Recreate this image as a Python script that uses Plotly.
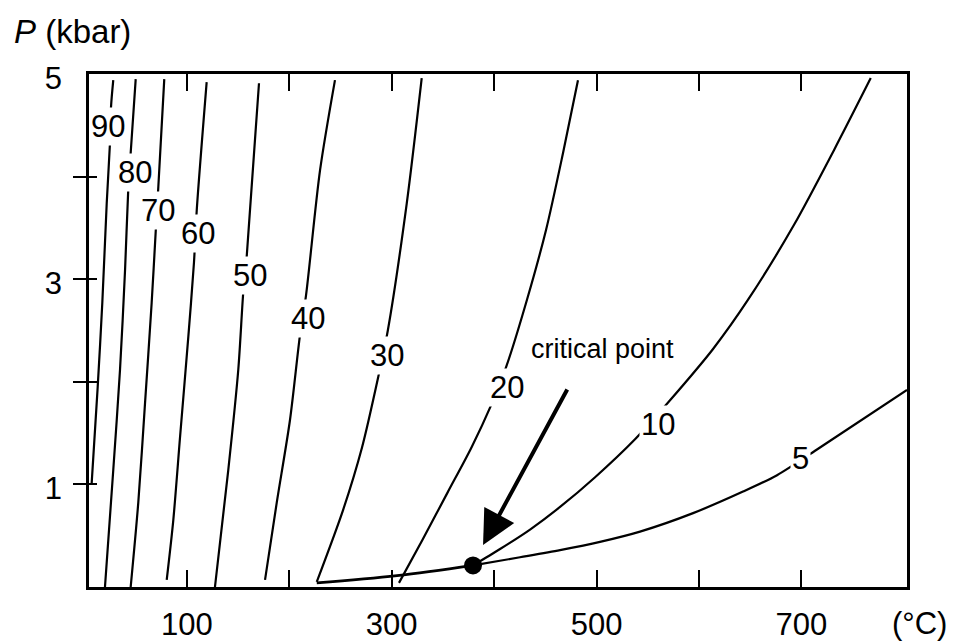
import plotly.graph_objects as go

# ---- data (T in °C, P in kbar) ----
T_90 = [28.1, 25.9, 24.9, 21.7, 17.4, 12.9, 7.0]
P_90 = [4.94, 4.68, 4.33, 3.74, 2.77, 1.95, 1.01]

T_80 = [50.0, 45.1, 42.8, 39.6, 34.7, 28.1, 20.0]
P_80 = [4.95, 4.23, 3.89, 3.09, 2.12, 1.14, 0.0]

T_70 = [77.9, 72.1, 69.8, 65.6, 59.1, 52.5, 45.1]
P_70 = [4.95, 3.90, 3.51, 2.77, 1.79, 0.82, 0.0]

T_60 = [119.3, 109.6, 106.9, 101.4, 93.3, 86.7, 80.3]
P_60 = [4.92, 3.67, 3.16, 2.44, 1.46, 0.65, 0.07]

T_50 = [170.4, 158.4, 155.1, 150.2, 140.4, 127.4]
P_50 = [4.91, 3.22, 2.88, 2.12, 1.14, 0.0]

T_40 = [244.6, 230.0, 216.3, 210.5, 200.7, 187.7, 176.3]
P_40 = [4.94, 4.06, 2.84, 2.46, 1.63, 0.82, 0.07]

T_30 = [329.3, 314.7, 296.2, 286.9, 271.0, 252.5, 226.8]
P_30 = [4.96, 3.74, 2.50, 2.05, 1.36, 0.75, 0.05]

T_20 = [481.9, 467.3, 450.7, 432.1, 411.6, 397.0, 377.9, 354.5, 330.1, 307.1]
P_20 = [4.94, 4.23, 3.48, 2.80, 2.14, 1.77, 1.36, 0.92, 0.46, 0.04]

T_10 = [767.8, 732.0, 692.9, 648.0, 613.8, 571.8, 537.6, 498.6, 464.4, 435.1, 405.8, 379.4]
P_10 = [4.96, 4.26, 3.53, 2.80, 2.32, 1.82, 1.44, 1.07, 0.78, 0.56, 0.37, 0.21]

T_5 = [379.4, 425.3, 464.4, 503.4, 542.5, 594.3, 643.1, 676.3, 715.3, 803.2]
P_5 = [0.21, 0.29, 0.36, 0.44, 0.54, 0.72, 0.93, 1.09, 1.34, 1.92]

T_BOIL = [226.8, 305.2, 379.4]
P_BOIL = [0.04, 0.11, 0.21]

CRIT_T = [379.4]
CRIT_P = [0.21]

ISO_LABELS = ["90", "80", "70", "60", "50", "40", "30", "20", "10", "5"]
LABEL_T = [23.2, 49.3, 71.5, 111.1, 161.6, 218.6, 295.1, 412.6, 560.4, 698.8]
LABEL_P = [4.49, 4.04, 3.67, 3.45, 3.04, 2.62, 2.26, 1.94, 1.58, 1.25]

X_TICKS = [100, 200, 300, 400, 500, 600, 700]
X_TICKTEXT = ["100", "", "300", "", "500", "", "700"]
Y_TICKS = [1, 2, 3, 4]
Y_LABEL_VALS = [1, 3, 5]
Y_LABEL_TEXT = ["1", "3", "5"]

ARROW_TAIL = (472.2, 1.94)
ARROW_HEAD = (389.2, 0.41)
CRIT_TEXT_POS = (506.3, 2.32)

X_RANGE = [4.4, 803.2]
Y_RANGE = [0, 5]

FONT = "Liberation Sans, Arial, Helvetica, sans-serif"
NUM_SIZE = 31

curves = [
    (T_90, P_90), (T_80, P_80), (T_70, P_70), (T_60, P_60), (T_50, P_50),
    (T_40, P_40), (T_30, P_30), (T_20, P_20), (T_10, P_10), (T_5, P_5),
]

fig = go.Figure()
for t, p in curves:
    fig.add_trace(go.Scatter(x=t, y=p, mode="lines",
                             line=dict(color="black", width=2.2, shape="spline", smoothing=0.8),
                             hoverinfo="skip"))
fig.add_trace(go.Scatter(x=T_BOIL, y=P_BOIL, mode="lines",
                         line=dict(color="black", width=2.8, shape="spline"),
                         hoverinfo="skip"))
fig.add_trace(go.Scatter(x=CRIT_T, y=CRIT_P, mode="markers",
                         marker=dict(color="black", size=18), hoverinfo="skip"))

W, H = 954, 642
ML, MR, MT, MB = 89, 47, 74, 55
pw, ph = W - ML - MR, H - MT - MB

annotations = []
for lab, t, p in zip(ISO_LABELS, LABEL_T, LABEL_P):
    annotations.append(dict(x=t, y=p, xref="x", yref="y", text=lab, showarrow=False,
                            font=dict(family=FONT, size=NUM_SIZE, color="black"),
                            bgcolor="white", borderpad=1))
annotations.append(dict(x=ARROW_HEAD[0], y=ARROW_HEAD[1], ax=ARROW_TAIL[0], ay=ARROW_TAIL[1],
                        xref="x", yref="y", axref="x", ayref="y", text="",
                        showarrow=True, arrowhead=2, arrowsize=1.7, arrowwidth=4,
                        arrowcolor="black", standoff=0, startstandoff=0))
annotations.append(dict(x=CRIT_TEXT_POS[0], y=CRIT_TEXT_POS[1], xref="x", yref="y",
                        text="critical point", showarrow=False,
                        font=dict(family=FONT, size=27, color="black")))
# pixel-placed labels, converted to paper coordinates
annotations.append(dict(x=(12 - ML) / pw, y=(H - MB - 32) / ph, xref="paper", yref="paper",
                        text="<i>P</i> (kbar)", showarrow=False, xanchor="left", yanchor="middle",
                        font=dict(family=FONT, size=33, color="black")))
annotations.append(dict(x=(919 - ML) / pw, y=(H - MB - 623) / ph, xref="paper", yref="paper",
                        text="(°C)", showarrow=False, xanchor="center", yanchor="middle",
                        font=dict(family=FONT, size=NUM_SIZE, color="black")))

fig.update_layout(
    width=W, height=H,
    margin=dict(l=ML, r=MR, t=MT, b=MB, autoexpand=False),
    plot_bgcolor="white", paper_bgcolor="white",
    showlegend=False,
    font=dict(family=FONT, size=NUM_SIZE, color="black"),
    annotations=annotations,
    xaxis=dict(range=X_RANGE, tickvals=X_TICKS, ticktext=X_TICKTEXT,
               ticks="inside", ticklen=17, tickwidth=2, tickcolor="black",
               showline=True, linewidth=3, linecolor="black", mirror="ticks",
               showgrid=False, zeroline=False, ticklabelstandoff=8, automargin=False,
               tickfont=dict(family=FONT, size=NUM_SIZE, color="black")),
    yaxis=dict(range=Y_RANGE, tickvals=Y_TICKS, ticks="outside", ticklen=13,
               tickwidth=2, tickcolor="black", showticklabels=False, automargin=False,
               showline=True, linewidth=3, linecolor="black", mirror=True,
               showgrid=False, zeroline=False),
    yaxis2=dict(range=Y_RANGE, overlaying="y", tickvals=Y_TICKS, ticks="inside",
                ticklen=8, tickwidth=2, tickcolor="black", showticklabels=False,
                showline=False, showgrid=False, zeroline=False, automargin=False),
    yaxis3=dict(range=Y_RANGE, overlaying="y", tickvals=Y_LABEL_VALS, ticktext=Y_LABEL_TEXT,
                ticks="", showline=False, showgrid=False, zeroline=False, automargin=False,
                ticklabelstandoff=26, ticklabelshift=4,
                tickfont=dict(family=FONT, size=NUM_SIZE, color="black")),
)
fig.add_trace(go.Scatter(x=[None], y=[None], yaxis="y2", showlegend=False))
fig.add_trace(go.Scatter(x=[None], y=[None], yaxis="y3", showlegend=False))

fig.write_html("out.html")
